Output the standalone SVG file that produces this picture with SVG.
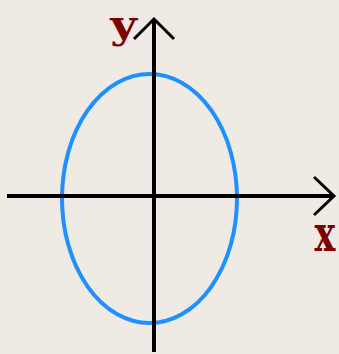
<svg xmlns="http://www.w3.org/2000/svg" width="339" height="354" viewBox="0 0 339 354">
  <style>
    .axis { stroke: #000000; stroke-width: 4; fill: none; }
    .head { stroke: #000000; stroke-width: 3; fill: none; stroke-linejoin: miter; }
    .curve { stroke: #1E90FF; stroke-width: 4; fill: none; }
    .lbl { font-family: "DejaVu Serif", "Liberation Serif", serif; font-weight: bold; fill: #800000; text-anchor: middle; }
  </style>
  <rect x="0" y="0" width="339" height="354" fill="#EFEBE4"/>
  <g id="ellipse">
    <ellipse class="curve" cx="149.5" cy="198.5" rx="87.5" ry="124.5"/>
  </g>
  <g id="connectors">
    <g id="x-axis">
      <line class="axis" x1="7" y1="196" x2="334" y2="196"/>
      <polyline class="head" points="314,177 334,196 314,215"/>
    </g>
    <g id="y-axis">
      <line class="axis" x1="154" y1="352" x2="154" y2="20"/>
      <polyline class="head" points="134,39 154,19 174,39"/>
    </g>
  </g>
  <g id="label-y">
    <text class="lbl" font-size="40" transform="translate(123.5,37.5) scale(1.15,1)">y</text>
  </g>
  <g id="label-x">
    <text class="lbl" font-size="50" transform="translate(325,251) scale(0.7,1)">x</text>
  </g>
</svg>
